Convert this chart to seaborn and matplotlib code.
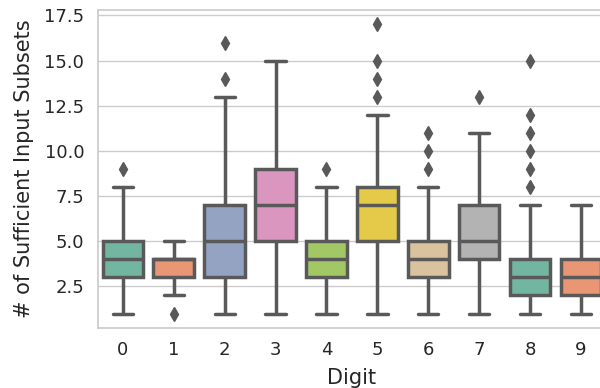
import numpy as np
import pandas as pd
import matplotlib
matplotlib.use("Agg")
import matplotlib.pyplot as plt
import seaborn as sns

digits = [str(d) for d in range(10)]
d0 = [1, 2, 3, 3, 3, 4, 4, 4, 5, 5, 5, 8, 9]
d1 = [1, 2, 3, 3, 3, 4, 4, 4, 4, 4, 4, 5, 5]
d2 = [1, 2, 3, 3, 4, 5, 5, 6, 7, 7, 13, 14, 16]
d3 = [1, 3, 5, 5, 6, 7, 7, 8, 9, 9, 10, 12, 15]
d4 = [1, 2, 3, 3, 3, 4, 4, 4, 5, 5, 5, 8, 9]
d5 = [1, 2, 3, 4, 5, 5, 6, 6, 7, 7, 7, 7, 8, 8, 8, 8, 12, 13, 14, 15, 17]
d6 = [1, 2, 3, 3, 3, 4, 4, 4, 4, 5, 5, 5, 5, 8, 9, 10, 11]
d7 = [1, 2, 4, 4, 4, 5, 5, 6, 7, 7, 8, 11, 13]
d8 = [1, 2, 2, 2, 2, 2, 2, 2, 3, 3, 3, 3, 3, 3, 3, 4, 4, 4, 4, 4, 4, 4, 7,
      8, 9, 10, 11, 12, 15]
d9 = [1, 2, 2, 2, 3, 3, 3, 4, 4, 4, 5, 6, 7]
series = [d0, d1, d2, d3, d4, d5, d6, d7, d8, d9]

rows = []
for dg, vals in zip(digits, series):
    for v in vals:
        rows.append((dg, v))
df = pd.DataFrame(rows, columns=["Digit", "# of Sufficient Input Subsets"])

sns.set_theme(style="whitegrid")
fig = plt.figure(figsize=(6, 3.88), dpi=100)
ax = fig.add_axes([0.1625, 0.1546, 0.848, 0.8196])
line_c = "#595959"
sns.boxplot(data=df, x="Digit", y="# of Sufficient Input Subsets",
            hue="Digit", palette="Set2", legend=False, ax=ax,
            order=digits, linewidth=2.5, linecolor=line_c,
            flierprops=dict(marker="d", markerfacecolor=line_c,
                            markeredgecolor=line_c, markersize=7))
ax.tick_params(axis="both", labelsize=13)
ax.set_xlabel("Digit", fontsize=15, labelpad=6)
ax.set_ylabel("# of Sufficient Input Subsets", fontsize=15, labelpad=7)
ax.set_yticks([2.5, 5.0, 7.5, 10.0, 12.5, 15.0, 17.5])
ax.set_ylim(0.2, 17.8)
fig.savefig("out.png", dpi=100)
